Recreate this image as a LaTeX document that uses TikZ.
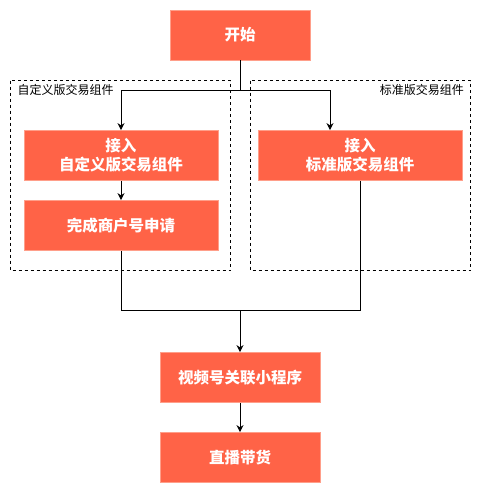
\documentclass[tikz,border=0pt]{standalone}
\usepackage{fontspec}
\setmainfont{Noto Sans CJK SC}
\usetikzlibrary{arrows.meta}
\definecolor{boxfill}{HTML}{FF6347}
\definecolor{boxline}{HTML}{FF9F8A}
\tikzset{
  stepbox/.style={draw=boxline, fill=boxfill, line width=0.8pt, text=white, font=\fontsize{15.5}{19}\selectfont\bfseries, align=center, inner sep=0pt},
  group/.style={draw=black, line width=0.8pt, dash pattern=on 3pt off 3pt},
  grouplabel/.style={font=\fontsize{12}{14}\selectfont, inner sep=0pt},
  conn/.style={draw=black, line width=1pt},
  arr/.style={conn, -{Stealth[length=7pt,width=7pt]}}
}
\begin{document}
\begin{tikzpicture}[x=1pt,y=-1pt]
\useasboundingbox (0,0) rectangle (483,493);
% groups
\draw[group] (10.5,80.5) rectangle (230.5,270.5);
\draw[group] (250.5,80.5) rectangle (470.5,270.5);
\node[grouplabel, anchor=west] (gl) at (17.5,90) {自定义版交易组件};
\node[grouplabel, anchor=east] (gr) at (464,90) {标准版交易组件};
% boxes
\node[stepbox, minimum width=140pt, minimum height=50pt] (start) at (240,35) {开始};
\node[stepbox, minimum width=194pt, minimum height=50pt] (cust) at (121,155.5) {接入\\自定义版交易组件};
\node[stepbox, minimum width=204pt, minimum height=50pt] (std) at (360,155.5) {接入\\标准版交易组件};
\node[stepbox, minimum width=194pt, minimum height=50pt] (apply) at (121,225.5) {完成商户号申请};
\node[stepbox, minimum width=160pt, minimum height=50pt] (link) at (240,377.5) {视频号关联小程序};
\node[stepbox, minimum width=160pt, minimum height=50pt] (live) at (240,457.5) {直播带货};
% junctions
\coordinate (j1) at (240,90);
\coordinate (j2) at (240,310);
% connectors
\draw[conn] (start.south) -- (j1);
\draw[arr] (j1) -| (cust.north);
\draw[arr] (j1) -| ([xshift=-30pt]std.north);
\draw[arr] (cust.south) -- (apply.north);
\draw[conn] (apply.south) |- (j2);
\draw[conn] (std.south) |- (j2);
\draw[arr] (j2) -- (link.north);
\draw[arr] (link.south) -- (live.north);
\end{tikzpicture}
\end{document}
